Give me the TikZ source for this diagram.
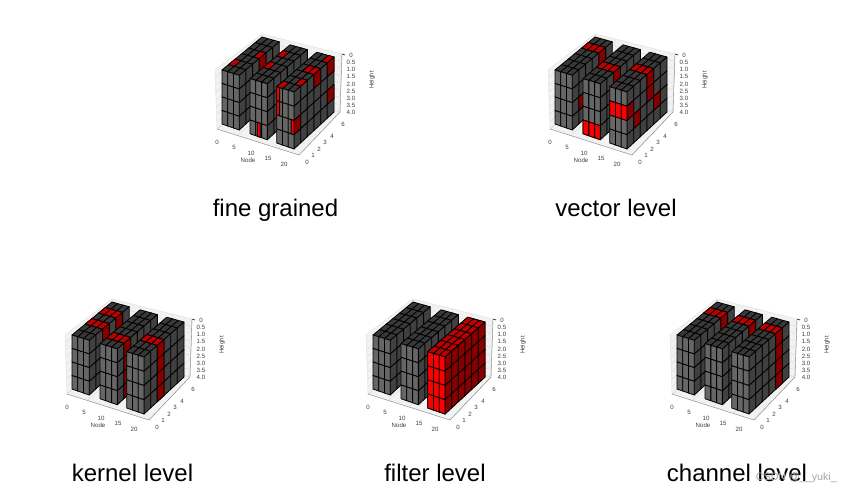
\documentclass[tikz,border=0pt]{standalone}
\usepackage{fontspec}
\setmainfont{Liberation Sans}
\tikzset{
  declare function={
    bx(\u,\v,\w)=222+72*\u+40*\v;
    by(\u,\v,\w)=(1-\w)*((1-\v)*(70+22*\u)+\v*(37+20*\u))+\w*((1-\v)*(124+25*\u)+\v*(87+25*\u));
  },
  cell/.style={draw=black,line width=0.6pt,line join=round},
  pane/.style={fill=black!5,draw=black!12,line width=0.3pt},
  gridline/.style={draw=black!14,line width=0.3pt},
  ticktext/.style={font=\fontsize{4.6}{5}\selectfont,text=black!75,inner sep=0pt},
  caption/.style={font=\fontsize{18}{20}\selectfont,inner sep=0pt,anchor=base},
}
\definecolor{frontgray}{gray}{0.40}
\definecolor{sidegray}{gray}{0.25}
\definecolor{topgray}{gray}{0.22}
\definecolor{frontred}{RGB}{250,0,0}
\definecolor{sidered}{RGB}{135,0,0}
\definecolor{topred}{RGB}{190,0,0}
\newcommand{\vp}[3]{({bx(#1,#2,#3)},{by(#1,#2,#3)})}
% one face cell of a bar: start of bar, column, row (or depth), colour
\newcommand{\frontcell}[5][1]{%
  \pgfmathsetmacro\ua{#2+(#3-1)*0.08}\pgfmathsetmacro\ub{\ua+0.08*#1}%
  \pgfmathsetmacro\wa{(#4-1)/4}\pgfmathsetmacro\wb{#4/4}%
  \filldraw[cell,fill=#5] \vp{\ua}{0}{\wa} -- \vp{\ub}{0}{\wa} -- \vp{\ub}{0}{\wb} -- \vp{\ua}{0}{\wb} -- cycle;}
\newcommand{\sidecell}[4]{%
  \pgfmathsetmacro\ua{#1+0.24}%
  \pgfmathsetmacro\va{(#2-1)/6}\pgfmathsetmacro\vb{#2/6}%
  \pgfmathsetmacro\wa{(#3-1)/4}\pgfmathsetmacro\wb{#3/4}%
  \filldraw[cell,fill=#4] \vp{\ua}{\va}{\wa} -- \vp{\ua}{\vb}{\wa} -- \vp{\ua}{\vb}{\wb} -- \vp{\ua}{\va}{\wb} -- cycle;}
\newcommand{\topcell}[4]{%
  \pgfmathsetmacro\ua{#1+(#2-1)*0.08}\pgfmathsetmacro\ub{\ua+0.08}%
  \pgfmathsetmacro\va{(#3-1)/6}\pgfmathsetmacro\vb{#3/6}%
  \filldraw[cell,fill=#4] \vp{\ua}{\va}{0} -- \vp{\ub}{\va}{0} -- \vp{\ub}{\vb}{0} -- \vp{\ua}{\vb}{0} -- cycle;}
% gray bar, then its red cells: start, list of cells
\newcommand{\grayblock}[1]{%
  \foreach \dd in {1,...,6} \foreach \cc in {1,2,3} {\topcell{#1}{\cc}{\dd}{topgray}}
  \foreach \dd in {1,...,6} \foreach \rr in {1,...,4} {\sidecell{#1}{\dd}{\rr}{sidegray}}
  \foreach \cc in {1,2,3} \foreach \rr in {1,...,4} {\frontcell{#1}{\cc}{\rr}{frontgray}}}
\newcommand{\redfront}[2]{\foreach \cc/\rr in {#2} {\frontcell{#1}{\cc}{\rr}{frontred}}}
\newcommand{\redside}[2]{\foreach \dd/\rr in {#2} {\sidecell{#1}{\dd}{\rr}{sidered}}}
\newcommand{\redtop}[2]{\foreach \cc/\dd in {#2} {\topcell{#1}{\cc}{\dd}{topred}}}
% walls, floor, ticks and axis texts of one plot
\newcommand{\plotframe}[1]{%
  \filldraw[pane] (215,70) -- (262,34) -- (263,90) -- (217,129) -- cycle;
  \filldraw[pane] (262,34) -- (342,54) -- (340,112) -- (263,90) -- cycle;
  \filldraw[pane] (217,129) -- (263,90) -- (340,112) -- (299,155) -- cycle;
  \foreach \i in {0,...,4} {
    \draw[gridline] ({217+\i*20.5},{129+\i*6.5}) -- ({263+\i*19.2},{90+\i*5.5});
    \draw[gridline] ({263+\i*19.2},{90+\i*5.5}) -- ({262+\i*20},{34+\i*5});
  }
  \foreach \i in {1,...,8} {
    \draw[gridline] ({262},{34+\i*7}) -- ({342-0.25*\i},{54+\i*7.25});
    \draw[gridline] ({215+\i*0.25},{70+\i*7.4}) -- (262,{34+\i*7});
  }
  \draw[black!45,line width=0.3pt] (217,129) -- (299,155) -- (340,112) -- (342,54);
  \foreach \x/\y/\t [count=\i] in {217/142/0,234/147/5,251/153/10,268/158/15,284/164/20}
    \node[ticktext] (xt#1\i) at (\x,\y) {\t};
  \foreach \x/\y/\t [count=\i] in {307/162/0,313/155/1,319/149/2,325/142/3,332/136/4,343/124/6}
    \node[ticktext] (yt#1\i) at (\x,\y) {\t};
  \foreach \y/\t [count=\i] in {55/0,62/0.5,69/1.0,76/1.5,84/2.0,91/2.5,98/3.0,105/3.5,112/4.0}
    \node[ticktext] (zt#1\i) at (351,\y) {\t};
  \draw[black,line width=0.4pt] (342,54) -- (345,55);
  \node[ticktext] (xl#1) at (248,160) {Node};
  \node[ticktext,rotate=90] (zl#1) at (372,80) {Height};}
\newcommand{\barA}{0}
\newcommand{\barB}{0.39}
\newcommand{\barC}{0.76}
\begin{document}
\begin{tikzpicture}[x=0.75pt,y=-0.75pt]
  \useasboundingbox (0,0) rectangle (852,493);
  \fill[white] (0,0) rectangle (852,493);
  % fine grained
  \plotframe{a}
  \grayblock{\barA}
  \redtop{\barA}{1/2,3/4}
  \redside{\barA}{4/1}
  \grayblock{\barB}
  \redtop{\barB}{1/3,1/5}
  \frontcell[0.5]{\barB+0.02}{2}{4}{frontred}
  \grayblock{\barC}
  \redtop{\barC}{1/1,3/2,2/4,3/4,3/6}
  \redside{\barC}{1/3,4/1,6/1,6/3}
  \frontcell[0.5]{\barC}{1}{1}{frontred}
  \frontcell[0.5]{\barC}{1}{2}{frontred}
  \frontcell[0.5]{\barC+0.04}{3}{3}{frontred}
  \node[caption] (capa) at (275.5,216.5) {fine grained};
  % vector level
  \begin{scope}[shift={(333,0)}]
    \plotframe{b}
    \grayblock{\barA}
    \redtop{\barA}{1/5,2/5,3/5}
    \redside{\barA}{5/1,2/3}
    \grayblock{\barB}
    \redtop{\barB}{1/3,2/3,3/3}
    \redside{\barB}{3/1}
    \redfront{\barB}{1/4,2/4,3/4}
    \grayblock{\barC}
    \redtop{\barC}{1/4,2/4,3/4}
    \redside{\barC}{4/1,4/2,2/3,5/3,1/2}
    \redfront{\barC}{1/2,2/2,3/2}
    \node[caption] (capb) at (283,216.5) {vector level};
  \end{scope}
  % kernel level
  \begin{scope}[shift={(-150,265)}]
    \plotframe{c}
    \grayblock{\barA}
    \redtop{\barA}{1/3,2/3,3/3,1/5,2/5,3/5}
    \redside{\barA}{3/1,3/2,3/3,3/4,5/1,5/2,5/3,5/4}
    \grayblock{\barB}
    \redtop{\barB}{1/2,2/2,3/2}
    \redside{\barB}{2/1,2/2,2/3,2/4}
    \grayblock{\barC}
    \redtop{\barC}{1/3,2/3,3/3}
    \redside{\barC}{3/1,3/2,3/3,3/4}
    \node[caption] (capc) at (282.5,216.5) {kernel level};
  \end{scope}
  % filter level
  \begin{scope}[shift={(151,265)}]
    \plotframe{d}
    \grayblock{\barA}
    \grayblock{\barB}
    \grayblock{\barC}
    \foreach \k in {1,...,6} {
      \redtop{\barC}{1/\k,2/\k,3/\k}
      \redside{\barC}{\k/1,\k/2,\k/3,\k/4}
    }
    \redfront{\barC}{1/1,2/1,3/1,1/2,2/2,3/2,1/3,2/3,3/3,1/4,2/4,3/4}
    \node[caption] (capd) at (284,216.5) {filter level};
  \end{scope}
  % channel level
  \begin{scope}[shift={(455,265)}]
    \plotframe{e}
    \grayblock{\barA}
    \redtop{\barA}{1/5,2/5,3/5}
    \redside{\barA}{5/1,5/2,5/3,5/4}
    \grayblock{\barB}
    \redtop{\barB}{1/5,2/5,3/5}
    \redside{\barB}{5/1,5/2,5/3,5/4}
    \grayblock{\barC}
    \redtop{\barC}{1/5,2/5,3/5}
    \redside{\barC}{5/1,5/2,5/3,5/4}
    \node[caption] (cape) at (282,216.5) {channel level};
  \end{scope}
  \node[font=\fontsize{8}{10}\selectfont,text=black!35,inner sep=0pt,anchor=east] (mark) at (837,478) {CSDN @\_\_yuki\_};
\end{tikzpicture}
\end{document}
